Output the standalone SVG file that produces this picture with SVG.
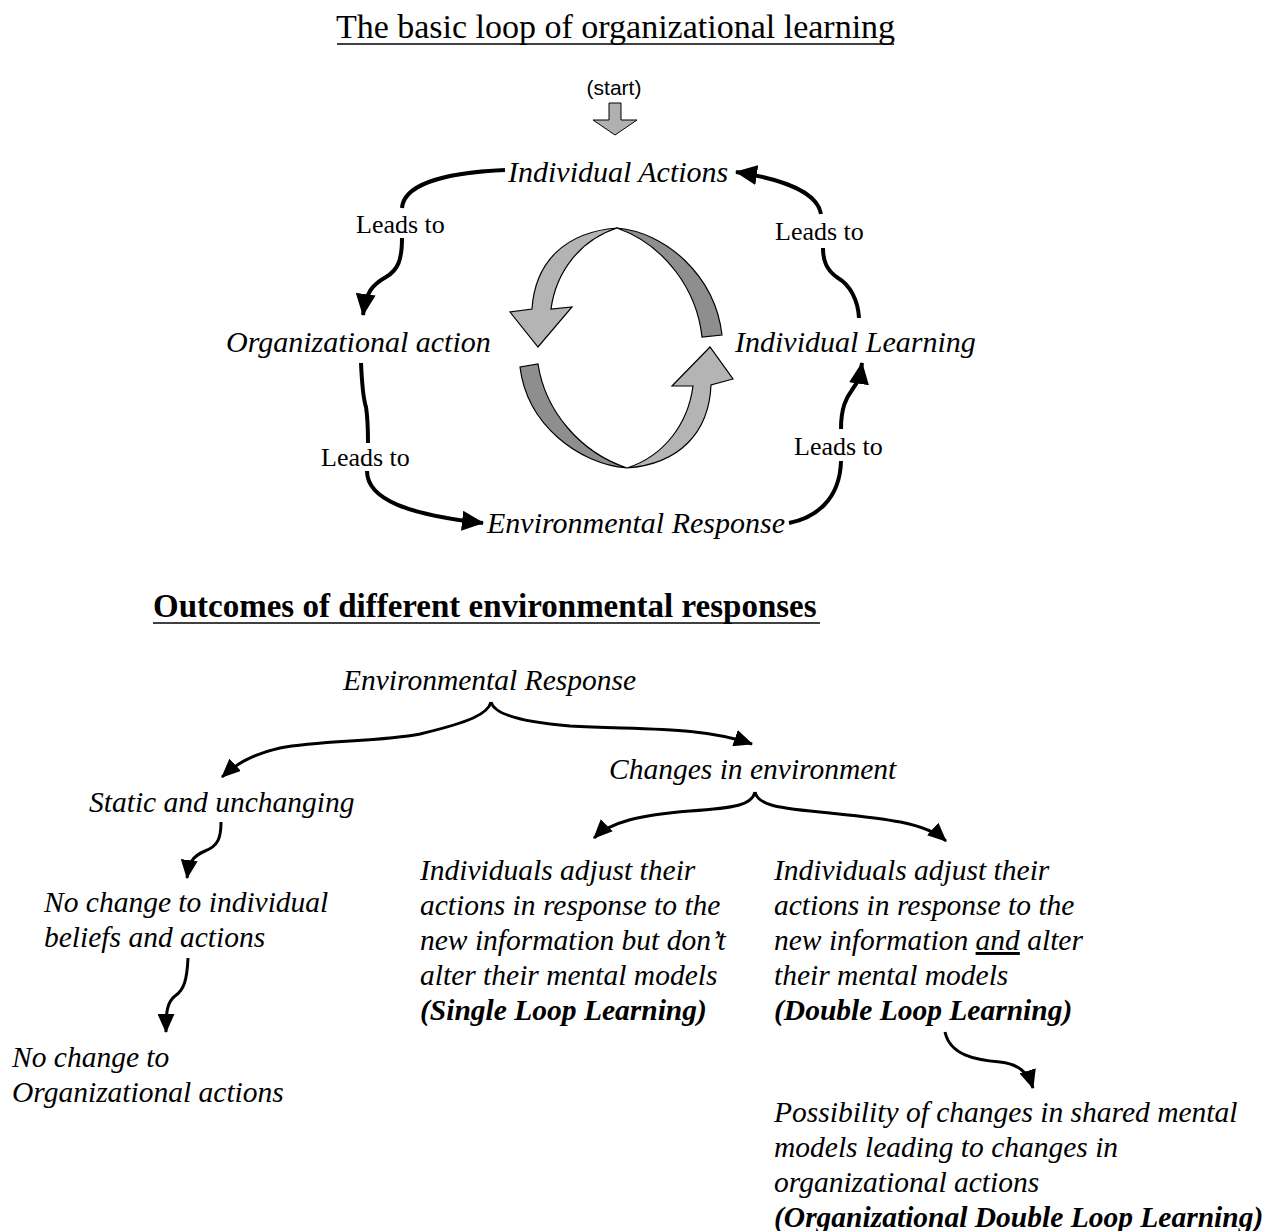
<svg xmlns="http://www.w3.org/2000/svg" width="1280" height="1231" viewBox="0 0 1280 1231">
  <defs>
    <style>
      .serif { font-family: "Liberation Serif", "Times New Roman", serif; fill: #000; }
      .it { font-style: italic; }
      .bi { font-style: italic; font-weight: bold; }
      .title { font-size: 34px; }
      .heading { font-size: 33px; font-weight: bold; }
      .node { font-size: 30px; }
      .node-sm { font-size: 29.5px; }
      .lead { font-size: 26px; }
      .sans { font-family: "Liberation Sans", Arial, sans-serif; font-size: 21px; fill: #000; }
      .conn { fill: none; stroke: #000; stroke-width: 4; stroke-linecap: butt; }
      .conn-sm { fill: none; stroke: #000; stroke-width: 3; stroke-linecap: butt; }
      .ribbon-light { fill: #b4b4b4; stroke: #000; stroke-width: 1.2; stroke-linejoin: miter; }
      .ribbon-dark { fill: #8e8e8e; stroke: #000; stroke-width: 1.2; }
      .rule { stroke: #000; stroke-width: 1.6; }
    </style>
    <marker id="head-lg" markerUnits="userSpaceOnUse" viewBox="0 0 22 20" markerWidth="22" markerHeight="20" refX="21" refY="10" orient="auto">
      <path d="M0,0 L22,10 L0,20 Z" fill="#000"/>
    </marker>
    <marker id="head-sm" markerUnits="userSpaceOnUse" viewBox="0 0 19 17" markerWidth="19" markerHeight="17" refX="18" refY="8.5" orient="auto">
      <path d="M0,0 L19,8.5 L0,17 Z" fill="#000"/>
    </marker>
  </defs>

  <rect x="0" y="0" width="1280" height="1231" fill="#fff"/>

  <!-- Headings -->
  <g id="title">
    <text class="serif title" x="615.5" y="38" text-anchor="middle">The basic loop of organizational learning</text>
    <line class="rule" x1="337" y1="44" x2="894" y2="44"/>
  </g>
  <g id="heading-outcomes">
    <text class="serif heading" x="153" y="617">Outcomes of different environmental responses</text>
    <line class="rule" x1="153" y1="623" x2="820" y2="623"/>
  </g>

  <!-- Start marker -->
  <g id="start">
    <text class="sans" x="614" y="95" text-anchor="middle">(start)</text>
    <path d="M609 103 L621 103 L621 120 L637 120 L615 135 L593 120 L609 120 Z" fill="#b0b0b0" stroke="#000" stroke-width="1"/>
  </g>

  <!-- Central twisted cycle ribbon -->
  <g id="cycle">
    <path class="ribbon-dark" d="M617 228 C665 232 715 275 722 335 L702 337 C697 290 665 245 617 228 Z"/>
    <path class="ribbon-light" d="M617 228 C565 232 535 262 532 309 L510 312 L538 347 L572 307 L551 309 C556 272 580 240 617 228 Z"/>
    <path class="ribbon-dark" d="M627 468 C579 464 527 425 520 367 L538 364 C545 410 579 452 627 468 Z"/>
    <path class="ribbon-light" d="M627 468 C679 464 709 433 711 385 L733 379 L710 347 L672 386 L693 386 C688 424 664 456 627 468 Z"/>
  </g>

  <!-- Loop nodes -->
  <g id="node-individual-actions"><text class="serif it node" x="508" y="182">Individual Actions</text></g>
  <g id="node-organizational-action"><text class="serif it node" x="226" y="352">Organizational action</text></g>
  <g id="node-individual-learning"><text class="serif it node" x="735" y="352">Individual Learning</text></g>
  <g id="node-environmental-response"><text class="serif it node" x="487" y="533">Environmental Response</text></g>

  <!-- Outcome nodes -->
  <g id="node-env-response-2"><text class="serif it node-sm" x="343" y="690">Environmental Response</text></g>
  <g id="node-changes"><text class="serif it node-sm" x="609" y="779">Changes in environment</text></g>
  <g id="node-static"><text class="serif it node-sm" x="89" y="812">Static and unchanging</text></g>
  <g id="node-no-change-individual">
    <text class="serif it node-sm" x="44" y="912">No change to individual</text>
    <text class="serif it node-sm" x="44" y="947">beliefs and actions</text>
  </g>
  <g id="node-no-change-org">
    <text class="serif it node-sm" x="12" y="1067">No change to</text>
    <text class="serif it node-sm" x="12" y="1102">Organizational actions</text>
  </g>
  <g id="node-single-loop">
    <text class="serif it node-sm" x="420" y="880">Individuals adjust their</text>
    <text class="serif it node-sm" x="420" y="915">actions in response to the</text>
    <text class="serif it node-sm" x="420" y="950">new information but don’t</text>
    <text class="serif it node-sm" x="420" y="985">alter their mental models</text>
    <text class="serif bi node-sm" x="420" y="1020">(Single Loop Learning)</text>
  </g>
  <g id="node-double-loop">
    <text class="serif it node-sm" x="774" y="880">Individuals adjust their</text>
    <text class="serif it node-sm" x="774" y="915">actions in response to the</text>
    <text class="serif it node-sm" x="774" y="950">new information <tspan text-decoration="underline">and</tspan> alter</text>
    <text class="serif it node-sm" x="774" y="985">their mental models</text>
    <text class="serif bi node-sm" x="774" y="1020">(Double Loop Learning)</text>
  </g>
  <g id="node-org-double-loop">
    <text class="serif it node-sm" x="774" y="1122">Possibility of changes in shared mental</text>
    <text class="serif it node-sm" x="774" y="1157">models leading to changes in</text>
    <text class="serif it node-sm" x="774" y="1192">organizational actions</text>
    <text class="serif bi node-sm" x="774" y="1227">(Organizational Double Loop Learning)</text>
  </g>

  <!-- Connectors -->
  <g id="connectors">
    <!-- Individual Actions to Organizational action -->
    <path class="conn" d="M505 170 C460 172 404 180 402 208"/>
    <text class="serif lead" x="356" y="233">Leads to</text>
    <path class="conn" marker-end="url(#head-lg)" d="M402 238 C402 260 398 270 386 277 C372 285 366 292 363 315"/>

    <!-- Organizational action to Environmental Response -->
    <path class="conn" d="M361 363 C362 385 363 398 366 407 C368 420 368 432 368 443"/>
    <text class="serif lead" x="321" y="466">Leads to</text>
    <path class="conn" marker-end="url(#head-lg)" d="M367 471 C367 500 410 515 483 523"/>

    <!-- Environmental Response to Individual Learning -->
    <path class="conn" d="M789 523 C815 518 840 500 841 461"/>
    <text class="serif lead" x="794" y="455">Leads to</text>
    <path class="conn" marker-end="url(#head-lg)" d="M841 429 C841 408 846 398 852 390 C858 382 860 377 862 363"/>

    <!-- Individual Learning to Individual Actions -->
    <path class="conn" d="M859 318 C858 300 850 285 838 278 C826 270 823 260 823 248"/>
    <text class="serif lead" x="775" y="240">Leads to</text>
    <path class="conn" marker-end="url(#head-lg)" d="M821 214 C818 195 790 180 736 172"/>

    <!-- Environmental Response branches -->
    <path class="conn-sm" marker-end="url(#head-sm)" d="M491 702 C488 714 470 722 420 734 C380 742 320 740 280 748 C250 755 235 765 222 777"/>
    <path class="conn-sm" marker-end="url(#head-sm)" d="M491 702 C494 714 520 722 570 726 C640 730 700 726 752 744"/>

    <!-- Changes in environment branches -->
    <path class="conn-sm" marker-end="url(#head-sm)" d="M755 792 C752 805 735 808 690 811 C640 815 610 822 594 838"/>
    <path class="conn-sm" marker-end="url(#head-sm)" d="M755 792 C758 805 775 808 830 813 C880 818 925 822 946 841"/>

    <!-- Static chain -->
    <path class="conn-sm" marker-end="url(#head-sm)" d="M221 822 C221 838 218 846 205 851 C193 856 189 862 187 878"/>
    <path class="conn-sm" marker-end="url(#head-sm)" d="M188 958 C187 980 184 990 175 996 C167 1002 166 1012 166 1032"/>

    <!-- Double loop to organizational double loop -->
    <path class="conn-sm" marker-end="url(#head-sm)" d="M945 1032 C950 1055 975 1060 1000 1062 C1018 1064 1028 1072 1033 1088"/>
  </g>
</svg>
